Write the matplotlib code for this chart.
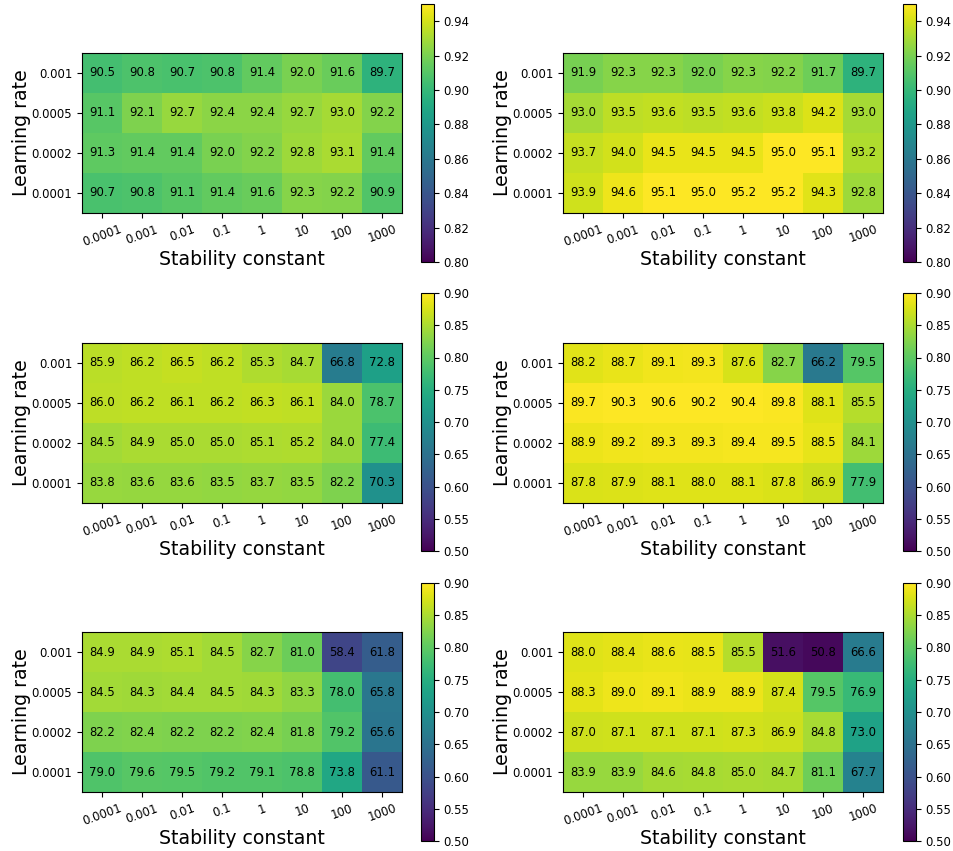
import numpy as np
import matplotlib
matplotlib.use("Agg")
import matplotlib.pyplot as plt

stability = ["0.0001", "0.001", "0.01", "0.1", "1", "10", "100", "1000"]
learning_rates = ["0.001", "0.0005", "0.0002", "0.0001"]

acc_a = [[90.5, 90.8, 90.7, 90.8, 91.4, 92.0, 91.6, 89.7],
         [91.1, 92.1, 92.7, 92.4, 92.4, 92.7, 93.0, 92.2],
         [91.3, 91.4, 91.4, 92.0, 92.2, 92.8, 93.1, 91.4],
         [90.7, 90.8, 91.1, 91.4, 91.6, 92.3, 92.2, 90.9]]
acc_b = [[91.9, 92.3, 92.3, 92.0, 92.3, 92.2, 91.7, 89.7],
         [93.0, 93.5, 93.6, 93.5, 93.6, 93.8, 94.2, 93.0],
         [93.7, 94.0, 94.5, 94.5, 94.5, 95.0, 95.1, 93.2],
         [93.9, 94.6, 95.1, 95.0, 95.2, 95.2, 94.3, 92.8]]
acc_c = [[85.9, 86.2, 86.5, 86.2, 85.3, 84.7, 66.8, 72.8],
         [86.0, 86.2, 86.1, 86.2, 86.3, 86.1, 84.0, 78.7],
         [84.5, 84.9, 85.0, 85.0, 85.1, 85.2, 84.0, 77.4],
         [83.8, 83.6, 83.6, 83.5, 83.7, 83.5, 82.2, 70.3]]
acc_d = [[88.2, 88.7, 89.1, 89.3, 87.6, 82.7, 66.2, 79.5],
         [89.7, 90.3, 90.6, 90.2, 90.4, 89.8, 88.1, 85.5],
         [88.9, 89.2, 89.3, 89.3, 89.4, 89.5, 88.5, 84.1],
         [87.8, 87.9, 88.1, 88.0, 88.1, 87.8, 86.9, 77.9]]
acc_e = [[84.9, 84.9, 85.1, 84.5, 82.7, 81.0, 58.4, 61.8],
         [84.5, 84.3, 84.4, 84.5, 84.3, 83.3, 78.0, 65.8],
         [82.2, 82.4, 82.2, 82.2, 82.4, 81.8, 79.2, 65.6],
         [79.0, 79.6, 79.5, 79.2, 79.1, 78.8, 73.8, 61.1]]
acc_f = [[88.0, 88.4, 88.6, 88.5, 85.5, 51.6, 50.8, 66.6],
         [88.3, 89.0, 89.1, 88.9, 88.9, 87.4, 79.5, 76.9],
         [87.0, 87.1, 87.1, 87.1, 87.3, 86.9, 84.8, 73.0],
         [83.9, 83.9, 84.6, 84.8, 85.0, 84.7, 81.1, 67.7]]

panels = [acc_a, acc_b, acc_c, acc_d, acc_e, acc_f]
ranges = [(0.80, 0.95), (0.80, 0.95), (0.50, 0.90), (0.50, 0.90), (0.50, 0.90), (0.50, 0.90)]
cticks = [np.arange(0.80, 0.945, 0.02)] * 2 + [np.arange(0.50, 0.905, 0.05)] * 4

W, H = 954, 851
fig = plt.figure(figsize=(W / 100, H / 100), dpi=100)

def px_axes(x0, y0, x1, y1):
    return fig.add_axes([x0 / W, 1 - y1 / H, (x1 - x0) / W, (y1 - y0) / H])

hm_x = [(82, 402), (563, 883)]
cb_x = [(421, 434), (903, 916)]
hm_y = [(53, 213), (343, 503), (632, 792)]
cb_y = [(4, 262), (293, 551), (583, 841)]

small = 8.4
for i, data in enumerate(panels):
    r, c = divmod(i, 2)
    arr = np.array(data) / 100.0
    vmin, vmax = ranges[i]
    ax = px_axes(hm_x[c][0], hm_y[r][0], hm_x[c][1], hm_y[r][1])
    im = ax.imshow(arr, cmap="viridis", vmin=vmin, vmax=vmax, aspect="auto")
    for yi in range(arr.shape[0]):
        for xi in range(arr.shape[1]):
            ax.text(xi, yi, f"{data[yi][xi]:.1f}", ha="center", va="center",
                    fontsize=small, color="black")
    ax.set_xticks(range(len(stability)))
    ax.set_xticklabels(stability, rotation=20, fontsize=small)
    ax.set_yticks(range(len(learning_rates)))
    ax.set_yticklabels(learning_rates, fontsize=small)
    ax.set_xlabel("Stability constant", fontsize=13.6, labelpad=0.5)
    ax.set_ylabel("Learning rate", fontsize=13.6, labelpad=0.5)
    cax = px_axes(cb_x[c][0], cb_y[r][0], cb_x[c][1], cb_y[r][1])
    cb = fig.colorbar(im, cax=cax)
    cb.set_ticks(cticks[i])
    cb.ax.tick_params(labelsize=small)
    cb.ax.yaxis.set_major_formatter(matplotlib.ticker.FormatStrFormatter("%.2f"))

fig.savefig("out.png", dpi=100)
